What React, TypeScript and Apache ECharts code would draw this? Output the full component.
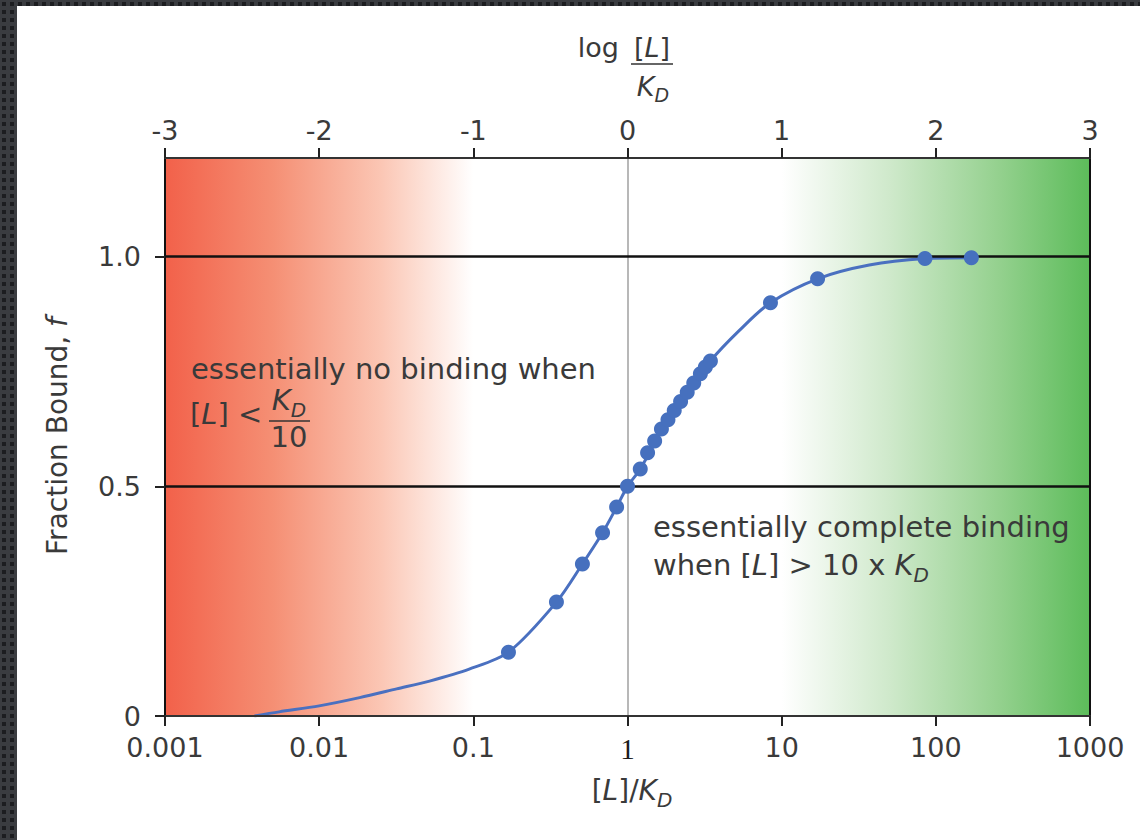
import React, { useEffect, useRef } from 'react';
import * as echarts from 'echarts';

// ---- data ----
const bottomTickLabels = ['0.001', '0.01', '0.1', '1', '10', '100', '1000'];
const topTickLabels = ['-3', '-2', '-1', '0', '1', '2', '3'];
const yTickValues = [0, 0.5, 1];
const yTickLabels = ['0', '0.5', '1.0'];

// fitted binding curve ([L]/KD, fraction bound)
const curveX = [0.0038, 0.0055, 0.01, 0.0183, 0.0318, 0.052, 0.094, 0.169, 0.346, 0.51, 0.689, 0.85, 1, 1.21, 1.83, 2.44, 3.45, 5.3, 8.46, 17.1, 37, 85, 170];
const curveF = [0, 0.009, 0.022, 0.04, 0.059, 0.076, 0.102, 0.139, 0.248, 0.331, 0.399, 0.455, 0.5, 0.538, 0.645, 0.705, 0.773, 0.839, 0.9, 0.952, 0.982, 0.996, 0.998];

// measured points
const pointX = [0.169, 0.346, 0.51, 0.689, 0.85, 1.0, 1.21, 1.35, 1.5, 1.66, 1.83, 2.01, 2.21, 2.44, 2.69, 2.97, 3.2, 3.45, 8.46, 17.1, 85, 170];
const pointF = [0.139, 0.248, 0.331, 0.399, 0.455, 0.5, 0.538, 0.573, 0.599, 0.625, 0.645, 0.665, 0.685, 0.705, 0.725, 0.745, 0.76, 0.773, 0.9, 0.952, 0.996, 0.998];

const referenceLevels = [0.5, 1.0];
const kdRatio = 1;
const noBindingRange = [0.001, 0.1];
const completeBindingRange = [10, 1000];
const xMin = 0.001;
const xMax = 1000;
const yMax = 1.215;

const FONT = 'DejaVu Sans';
const TXT = '#3a3a3a';

let measureCtx: CanvasRenderingContext2D | null = null;
function measure(text: string, size: number, italic: boolean) {
  if (!measureCtx) measureCtx = document.createElement('canvas').getContext('2d');
  measureCtx!.font = `${italic ? 'italic ' : ''}${size}px "${FONT}"`;
  return measureCtx!.measureText(text).width;
}

type Seg = { t: string; it?: boolean; sub?: boolean };
function seq(x: number, y: number, segs: Seg[], size: number, align: 'left' | 'center' = 'left') {
  const subSize = Math.round(size * 0.7);
  const widths = segs.map((s) => measure(s.t, s.sub ? subSize : size, !!s.it));
  const total = widths.reduce((a, b) => a + b, 0);
  let cx = align === 'center' ? x - total / 2 : x;
  const els: any[] = [];
  segs.forEach((s, i) => {
    els.push({
      type: 'text',
      z: 100,
      x: cx,
      y: s.sub ? y + Math.round(size * 0.35) : y,
      style: {
        text: s.t,
        fontFamily: FONT,
        fontSize: s.sub ? subSize : size,
        fontStyle: s.it ? 'italic' : 'normal',
        fill: TXT,
        align: 'left',
        verticalAlign: 'middle',
      },
    });
    cx += widths[i];
  });
  return els;
}

export default function App() {
  const ref = useRef<HTMLDivElement>(null);

  useEffect(() => {
    if (!ref.current) return;
    const chart = echarts.init(ref.current, null, { renderer: 'svg' });

    const redGrad = new echarts.graphic.LinearGradient(0, 0, 1, 0, [
      { offset: 0, color: '#f2614a' },
      { offset: 0.35, color: '#f58f74' },
      { offset: 0.7, color: '#fbc6b4' },
      { offset: 1, color: '#ffffff' },
    ]);
    const greenGrad = new echarts.graphic.LinearGradient(0, 0, 1, 0, [
      { offset: 0, color: '#ffffff' },
      { offset: 0.35, color: '#cfe9cb' },
      { offset: 0.7, color: '#95d18f' },
      { offset: 1, color: '#5cbc5a' },
    ]);

    const axisLineStyle = { color: '#333', width: 2 };
    const tickStyle = { color: '#222', width: 2 };

    const graphics: any[] = [
      // top title: log [L]/KD
      {
        type: 'text', z: 100, x: 619, y: 47,
        style: { text: 'log', fontFamily: FONT, fontSize: 27, fill: TXT, align: 'right', verticalAlign: 'middle' },
      },
      ...seq(652, 47, [{ t: '[' }, { t: 'L', it: true }, { t: ']' }], 27, 'center'),
      { type: 'line', z: 100, shape: { x1: 631, y1: 64, x2: 673, y2: 64 }, style: { stroke: '#333', lineWidth: 1.6 } },
      ...seq(653, 86, [{ t: 'K', it: true }, { t: 'D', it: true, sub: true }], 27, 'center'),
      // bottom title
      ...seq(632, 790, [{ t: '[' }, { t: 'L', it: true }, { t: ']/' }, { t: 'K', it: true }, { t: 'D', it: true, sub: true }], 28, 'center'),
      // y axis name
      {
        type: 'text', z: 100, x: 57, y: 436, rotation: Math.PI / 2,
        style: {
          text: 'Fraction Bound, {i|f}', fontFamily: FONT, fontSize: 28, fill: TXT, align: 'center', verticalAlign: 'middle',
          rich: { i: { fontFamily: FONT, fontSize: 28, fontStyle: 'italic', fill: TXT } },
        },
      },
      // annotation: no binding
      ...seq(191, 369, [{ t: 'essentially no binding when' }], 29),
      ...seq(190, 414, [{ t: '[' }, { t: 'L', it: true }, { t: '] <' }], 29),
      ...seq(289, 400, [{ t: 'K', it: true }, { t: 'D', it: true, sub: true }], 29, 'center'),
      { type: 'line', z: 100, shape: { x1: 269, y1: 421, x2: 310, y2: 421 }, style: { stroke: '#333', lineWidth: 1.6 } },
      ...seq(289, 437, [{ t: '10' }], 29, 'center'),
      // annotation: complete binding
      ...seq(653, 527, [{ t: 'essentially complete binding' }], 29),
      ...seq(653, 565, [{ t: 'when [' }, { t: 'L', it: true }, { t: '] > 10 x ' }, { t: 'K', it: true }, { t: 'D', it: true, sub: true }], 29),
    ];

    const option: any = {
      animation: false,
      backgroundColor: 'transparent',
      grid: { left: 165, right: 50, top: 158, bottom: 124, containLabel: false },
      xAxis: [
        {
          type: 'log', logBase: 10, min: xMin, max: xMax, position: 'bottom', z: 5,
          axisLine: { show: true, onZero: false, lineStyle: axisLineStyle },
          axisTick: { show: true, length: 10, lineStyle: tickStyle },
          minorTick: { show: false },
          splitLine: { show: false },
          axisLabel: {
            margin: 18, fontFamily: FONT, fontSize: 27, color: TXT,
            formatter: (v: number) => {
              const s = bottomTickLabels[Math.round(Math.log10(v)) + 3] ?? '';
              return s === '1' ? '{s|1}' : s;
            },
            rich: { s: { fontFamily: 'Liberation Serif', fontSize: 29, fontWeight: 'normal', color: '#1a1a1a' } },
          },
        },
        {
          type: 'value', min: -3, max: 3, interval: 1, position: 'top', z: 5,
          axisLine: { show: true, onZero: false, lineStyle: axisLineStyle },
          axisTick: { show: true, length: 10, lineStyle: tickStyle },
          splitLine: { show: false },
          axisLabel: {
            margin: 14, fontFamily: FONT, fontSize: 27, color: TXT,
            formatter: (v: number) => topTickLabels[Math.round(v) + 3] ?? '',
          },
        },
      ],
      yAxis: [
        {
          type: 'value', min: 0, max: yMax, position: 'left', z: 5,
          axisLine: { show: true, onZero: false, lineStyle: { color: '#111', width: 2 } },
          axisTick: { show: true, length: 10, lineStyle: tickStyle, customValues: yTickValues },
          splitLine: { show: false },
          axisLabel: {
            customValues: yTickValues,
            margin: 24, fontFamily: FONT, fontSize: 27, color: TXT,
            formatter: (v: number) => {
              const i = yTickValues.findIndex((t) => Math.abs(t - v) < 1e-6);
              return i >= 0 ? yTickLabels[i] : '';
            },
          },
        },
        {
          type: 'value', min: 0, max: yMax, position: 'right', z: 5,
          axisLine: { show: true, onZero: false, lineStyle: { color: '#111', width: 2 } },
          axisTick: { show: false },
          axisLabel: { show: false },
          splitLine: { show: false },
        },
      ],
      series: [
        {
          type: 'line', xAxisIndex: 0, yAxisIndex: 0, data: [], z: 1, silent: true,
          markArea: {
            silent: true,
            label: { show: false },
            data: [
              [{ xAxis: noBindingRange[0], itemStyle: { color: redGrad } }, { xAxis: noBindingRange[1] }],
              [{ xAxis: completeBindingRange[0], itemStyle: { color: greenGrad } }, { xAxis: completeBindingRange[1] }],
            ],
          },
        },
        {
          type: 'line', xAxisIndex: 0, yAxisIndex: 0, data: [], z: 2, silent: true,
          markLine: {
            silent: true, symbol: ['none', 'none'], label: { show: false },
            lineStyle: { color: '#a0a0a0', width: 1.5, type: 'solid' },
            data: [{ xAxis: kdRatio }],
          },
        },
        {
          type: 'line', xAxisIndex: 0, yAxisIndex: 0, data: [], z: 3, silent: true,
          markLine: {
            silent: true, symbol: ['none', 'none'], label: { show: false },
            lineStyle: { color: '#111', width: 2.5, type: 'solid' },
            data: referenceLevels.map((l) => ({ yAxis: l })),
          },
        },
        {
          type: 'line', xAxisIndex: 0, yAxisIndex: 0, z: 4,
          data: curveX.map((x, i) => [x, curveF[i]]),
          smooth: 0.3, showSymbol: false,
          lineStyle: { color: '#4a70c0', width: 3 },
        },
        {
          type: 'scatter', xAxisIndex: 0, yAxisIndex: 0, z: 5,
          data: pointX.map((x, i) => [x, pointF[i]]),
          symbolSize: 15,
          itemStyle: { color: '#4670be', opacity: 1 },
        },
      ],
      graphic: { elements: graphics },
    };

    chart.setOption(option);
    return () => chart.dispose();
  }, []);

  return (
    <div
      style={{
        position: 'fixed', left: 0, top: 0, width: 1140, height: 840, overflow: 'hidden',
        background: 'radial-gradient(circle at 50% 50%, #1c1d20 38%, transparent 44%) 0 0 / 8px 8px, #3a3c40',
      }}
    >
      <div style={{ position: 'absolute', left: 17, top: 6, right: 0, bottom: 0, background: '#ffffff' }} />
      <div ref={ref} style={{ position: 'absolute', left: 0, top: 0, width: 1140, height: 840 }} />
    </div>
  );
}
